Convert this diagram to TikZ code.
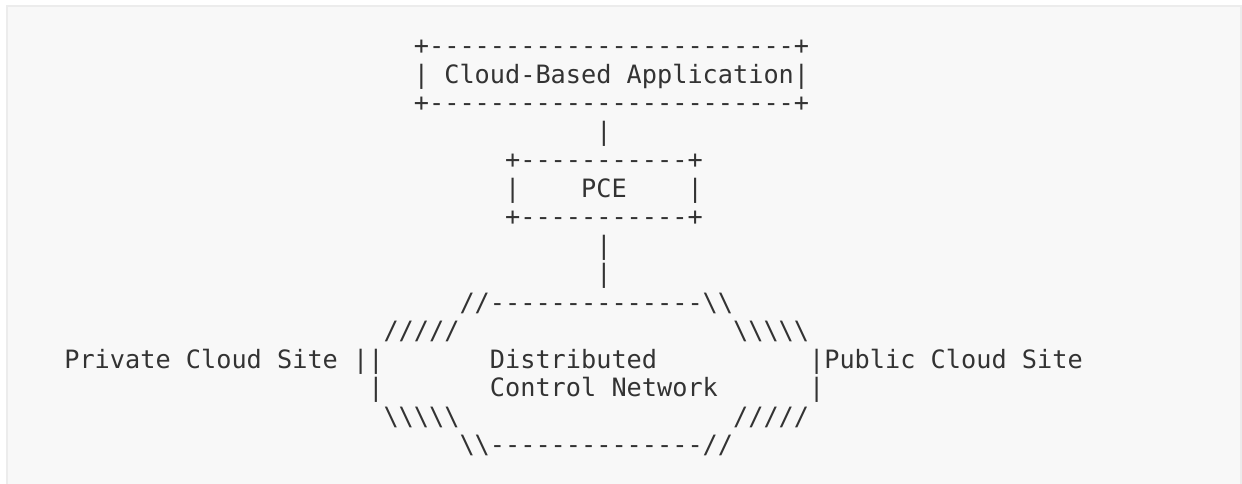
\documentclass[tikz,border=0pt]{standalone}
\usepackage{fontspec}
\newfontfamily\artfont[Ligatures=TeXOff]{DejaVu Sans Mono}
\definecolor{ink}{HTML}{333333}
\definecolor{pagebg}{HTML}{F8F8F8}
\definecolor{pageedge}{HTML}{ECECEC}
\def\bsl{\textbackslash}
\newcommand\artline[4]{\node[art] (#1) at ({64.3+15.2*(#2)},{54.8+28.5*(#3)}) {#4};}
\begin{document}
\begin{tikzpicture}[x=1pt,y=-1pt,
  art/.style={anchor=base west, inner sep=0pt, outer sep=0pt, text=ink,
    font=\artfont\fontsize{25.25}{28.5}\selectfont}]
\useasboundingbox (0,0) rectangle (1242,483);
\fill[white] (0,0) rectangle (1242,483);
\draw[pageedge, fill=pagebg, line width=2pt] (7,6) rectangle (1241,495);
% Cloud-Based Application box
\artline{apptop}{23}{0}{+------------------------+}
\artline{appl}{23}{1}{|}
\artline{appa}{25}{1}{Cloud-Based}
\artline{appb}{37}{1}{Application}
\artline{appr}{48}{1}{|}
\artline{appbot}{23}{2}{+------------------------+}
\artline{linka}{35}{3}{|}
% PCE box
\artline{pcetop}{29}{4}{+-----------+}
\artline{pcel}{29}{5}{|}
\artline{pce}{34}{5}{PCE}
\artline{pcer}{41}{5}{|}
\artline{pcebot}{29}{6}{+-----------+}
\artline{linkb}{35}{7}{|}
\artline{linkc}{35}{8}{|}
% Network cloud
\artline{nettop}{26}{9}{//--------------\bsl\bsl}
\artline{netul}{21}{10}{/////}
\artline{netur}{44}{10}{\bsl\bsl\bsl\bsl\bsl}
\artline{priva}{0}{11}{Private}
\artline{privb}{8}{11}{Cloud}
\artline{privc}{14}{11}{Site}
\artline{netl}{19}{11}{||}
\artline{dist}{28}{11}{Distributed}
\artline{puba}{49}{11}{|Public}
\artline{pubb}{57}{11}{Cloud}
\artline{pubc}{63}{11}{Site}
\artline{netll}{20}{12}{|}
\artline{ctrla}{28}{12}{Control}
\artline{ctrlb}{36}{12}{Network}
\artline{netrr}{49}{12}{|}
\artline{netbl}{21}{13}{\bsl\bsl\bsl\bsl\bsl}
\artline{netbr}{44}{13}{/////}
\artline{netbot}{26}{14}{\bsl\bsl--------------//}
\end{tikzpicture}
\end{document}
